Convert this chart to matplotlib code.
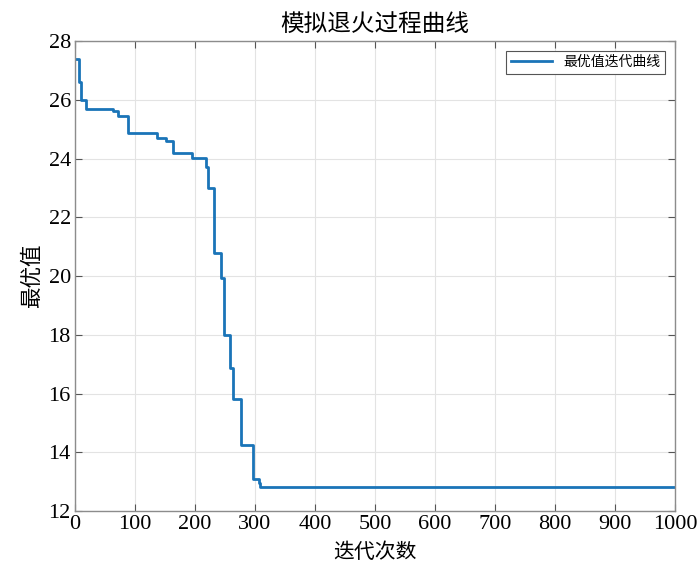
import matplotlib
matplotlib.use('Agg')
import matplotlib.pyplot as plt

# 字体: 数字用 Times 风格, 中文回退到 Noto Sans CJK
plt.rcParams['font.family'] = ['Liberation Serif', 'Noto Sans CJK SC']
plt.rcParams['axes.unicode_minus'] = False

# 最优值变化点 (迭代次数, 最优值), 按阶梯绘制
iters = [0, 7, 10, 19, 64, 72, 89, 136, 152, 164, 195, 218, 221, 231, 244,
         249, 258, 264, 276, 296, 306, 309, 1000]
best_vals = [27.4, 26.6, 26.0, 25.67, 25.62, 25.45, 24.86, 24.71, 24.61, 24.18,
             24.03, 23.7, 23.0, 20.79, 19.92, 18.0, 16.88, 15.8, 14.24, 13.08,
             12.94, 12.83, 12.83]

x_ticks = [0, 100, 200, 300, 400, 500, 600, 700, 800, 900, 1000]
y_ticks = [12, 14, 16, 18, 20, 22, 24, 26, 28]

fig = plt.figure(figsize=(6.99, 5.70), dpi=100)
ax = fig.add_axes([0.1073, 0.1035, 0.8584, 0.8245])

ax.step(iters, best_vals, where='post', color='#1a74b8', linewidth=2,
        label='最优值迭代曲线')

ax.set_xlim(0, 1000)
ax.set_ylim(12, 28)
ax.set_xticks(x_ticks)
ax.set_yticks(y_ticks)
ax.grid(True, color='#e3e3e3', linewidth=0.8)
ax.set_axisbelow(True)

for sp in ax.spines.values():
    sp.set_color('#8c8c8c')
    sp.set_linewidth(1.0)
ax.tick_params(direction='in', top=True, right=True, length=5,
               color='#555555', labelsize=16, pad=3)

ax.set_title('模拟退火过程曲线', fontsize=17, pad=7)
ax.set_xlabel('迭代次数', fontsize=15, labelpad=7)
ax.set_ylabel('最优值', fontsize=15.5, labelpad=4)

leg = ax.legend(loc='upper right', fontsize=10, fancybox=False,
                edgecolor='#555555', framealpha=1, handlelength=3.0,
                borderaxespad=0.7, borderpad=0.35)
leg.get_frame().set_linewidth(0.8)

fig.savefig('out.png', dpi=100)
